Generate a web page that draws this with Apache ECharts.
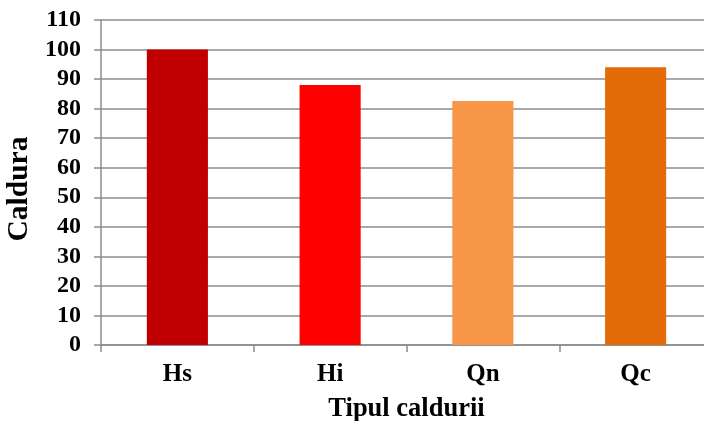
<!DOCTYPE html>
<html>
<head>
<meta charset="utf-8">
<script src="https://cdn.jsdelivr.net/npm/echarts@6/dist/echarts.min.js"></script>
<style>
  html, body { margin: 0; padding: 0; background: #fff; }
  #chart { width: 704px; height: 421px; }
</style>
</head>
<body>
<div id="chart"></div>
<script>
// Heat types and their values
const categories = ['Hs', 'Hi', 'Qn', 'Qc'];
const values = [100, 88, 82.6, 94];
const barColors = ['#C00000', '#FF0000', '#F79646', '#E36C09'];

const font = 'Liberation Serif, Times New Roman, serif';
const axisGray = '#8c8c8c';

const chart = echarts.init(document.getElementById('chart'), null, { renderer: 'canvas' });
chart.setOption({
  animation: false,
  backgroundColor: '#ffffff',
  grid: {
    left: 101, top: 20, width: 611, height: 325,
    containLabel: false,
    outerBoundsMode: 'none'
  },
  xAxis: {
    type: 'category',
    data: categories,
    name: 'Tipul caldurii',
    nameLocation: 'middle',
    nameGap: 51,
    nameTextStyle: { fontFamily: font, fontWeight: 'bold', fontSize: 26.5, color: '#000' },
    axisLine: { lineStyle: { color: axisGray, width: 1.5 } },
    axisTick: { show: true, length: 7, lineStyle: { color: axisGray, width: 1.5 } },
    axisLabel: { fontFamily: font, fontWeight: 'bold', fontSize: 25, color: '#000', margin: 17 }
  },
  yAxis: {
    type: 'value',
    min: 0,
    max: 110,
    interval: 10,
    name: 'Caldura',
    nameLocation: 'middle',
    nameGap: 63,
    nameRotate: 90,
    nameTextStyle: {
      fontFamily: font, fontWeight: 'bold', fontSize: 29.5, color: '#000',
      padding: [0, 13, 0, 0]
    },
    axisLine: { show: true, lineStyle: { color: axisGray, width: 1.5 } },
    axisTick: { show: true, length: 7, lineStyle: { color: axisGray, width: 1.5 } },
    axisLabel: { fontFamily: font, fontWeight: 'bold', fontSize: 24, color: '#000', margin: 20 },
    splitLine: { show: true, lineStyle: { color: axisGray, width: 1.5 } }
  },
  series: [{
    type: 'bar',
    barWidth: '40%',
    data: values.map((v, i) => ({ value: v, itemStyle: { color: barColors[i] } }))
  }]
});
</script>
</body>
</html>
